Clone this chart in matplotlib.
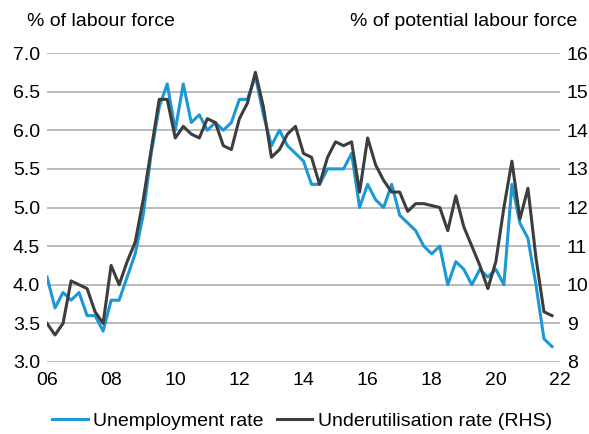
import matplotlib

matplotlib.use("Agg")
import matplotlib.pyplot as plt
import numpy as np

plt.rcParams["font.family"] = ["Liberation Sans", "DejaVu Sans"]
plt.rcParams["font.size"] = 14

# quarterly, 2006 Q1 to 2021 Q4
start_year = 2006
unemployment = [
    4.1, 3.7, 3.9, 3.8, 3.9, 3.6, 3.6, 3.4,
    3.8, 3.8, 4.1, 4.4, 4.9, 5.7, 6.3, 6.6,
    6.0, 6.6, 6.1, 6.2, 6.0, 6.1, 6.0, 6.1,
    6.4, 6.4, 6.7, 6.2, 5.8, 6.0, 5.8, 5.7,
    5.6, 5.3, 5.3, 5.5, 5.5, 5.5, 5.7, 5.0,
    5.3, 5.1, 5.0, 5.3, 4.9, 4.8, 4.7, 4.5,
    4.4, 4.5, 4.0, 4.3, 4.2, 4.0, 4.2, 4.1,
    4.2, 4.0, 5.3, 4.8, 4.6, 4.0, 3.3, 3.2,
]
underutilisation = [
    9.0, 8.7, 9.0, 10.1, 10.0, 9.9, 9.3, 9.0,
    10.5, 10.0, 10.6, 11.1, 12.2, 13.5, 14.8, 14.8,
    13.8, 14.1, 13.9, 13.8, 14.3, 14.2, 13.6, 13.5,
    14.3, 14.7, 15.5, 14.6, 13.3, 13.5, 13.9, 14.1,
    13.4, 13.3, 12.6, 13.3, 13.7, 13.6, 13.7, 12.4,
    13.8, 13.1, 12.7, 12.4, 12.4, 11.9, 12.1, 12.1,
    12.05, 12.0, 11.4, 12.3, 11.5, 11.0, 10.5, 9.9,
    10.6, 12.0, 13.2, 11.7, 12.5, 10.7, 9.3, 9.2,
]
year_ticks = list(range(2006, 2023, 2))
year_labels = [f"{y % 100:02d}" for y in year_ticks]
left_ticks = np.arange(3.0, 7.01, 0.5)
right_ticks = list(range(8, 17))

BLUE = "#1b98d5"
DARK = "#3d3d3d"
GRID = "#a8a8a8"

t = start_year + np.arange(len(unemployment)) / 4

fig = plt.figure(figsize=(5.89, 4.34), dpi=100)
ax = fig.add_axes([47 / 589, 1 - 362 / 434, 513 / 589, 309 / 434])
ax2 = ax.twinx()

ax.plot(t, unemployment, color=BLUE, lw=2.2, label="Unemployment rate")
ax2.plot(t, underutilisation, color=DARK, lw=2.2, label="Underutilisation rate (RHS)")

ax.set_xlim(2006, 2022)
ax.set_ylim(3.0, 7.0)
ax2.set_ylim(8, 16)

ax.set_xticks(year_ticks)
ax.set_xticklabels(year_labels)
ax.set_yticks(left_ticks)
ax.set_yticklabels([f"{v:.1f}" for v in left_ticks])
ax2.set_yticks(right_ticks)

ax.yaxis.grid(True, color=GRID, lw=1.1)
ax.set_axisbelow(True)
for a in (ax, ax2):
    for s in a.spines.values():
        s.set_visible(False)
ax.tick_params(axis="both", length=0)
ax.tick_params(axis="y", pad=5)
ax.tick_params(axis="x", pad=7)
ax2.tick_params(axis="y", length=0, pad=5)

fig.text(27 / 589, 1 - 22 / 434, "% of labour force", ha="left", va="center")
fig.text(577 / 589, 1 - 22 / 434, "% of potential labour force", ha="right", va="center")

handles = ax.get_lines() + ax2.get_lines()
fig.legend(
    handles,
    [h.get_label() for h in handles],
    loc="center",
    bbox_to_anchor=(302 / 589, 1 - 421 / 434),
    ncol=2,
    frameon=False,
    handlelength=1.85,
    handletextpad=0.3,
    columnspacing=0.65,
    borderpad=0,
)

fig.savefig("out.png", dpi=100)
